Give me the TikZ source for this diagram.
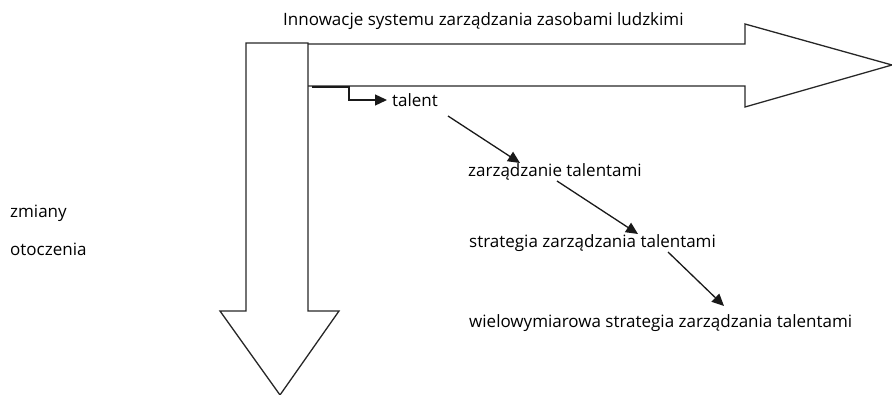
\documentclass[tikz,border=0pt]{standalone}
\usepackage{fontspec}
\setmainfont{Open Sans}
\usetikzlibrary{arrows.meta}
\begin{document}
\begin{tikzpicture}[x=1pt,y=-1pt,
  outline/.style={draw=black!85,line width=1.3pt,line join=miter},
  lbl/.style={font=\fontsize{17}{20}\selectfont,inner sep=0pt,anchor=west},
  conn/.style={draw=black!90,line width=1.3pt,-{Triangle[length=12pt,width=11pt]}}]
\useasboundingbox (0,0) rectangle (892,395);
% down arrow
\draw[outline] (308,43) -- (246,43) -- (246,311) -- (220,311) -- (280,395) -- (339,311) -- (308,311) -- cycle;
% right arrow
\draw[outline] (308,44) -- (745,44) -- (745,24) -- (892,65) -- (745,107) -- (745,86) -- (308,86);
% texts
\node[lbl] (title) at (283,21) {Innowacje systemu zarządzania zasobami ludzkimi};
\node[lbl] (zm) at (10,213) {zmiany};
\node[lbl] (ot) at (10,249) {otoczenia};
\node[lbl] (t1) at (392,100) {talent};
\node[lbl] (t2) at (468,172) {zarządzanie talentami};
\node[lbl] (t3) at (469,243) {strategia zarządzania talentami};
\node[lbl] (t4) at (469,323) {wielowymiarowa strategia zarządzania talentami};
\coordinate (s0) at (312,87);
\draw[conn] (s0) -- (349,87) -- (349,100) -- ([xshift=-5pt]t1.west);
\coordinate (a1) at (448,116);
\coordinate (b1) at (520,163);
\draw[conn] (a1) -- (b1);
\coordinate (a2) at (557,181);
\coordinate (b2) at (638,234);
\draw[conn] (a2) -- (b2);
\coordinate (a3) at (668,252);
\coordinate (b3) at (724,306);
\draw[conn] (a3) -- (b3);
\end{tikzpicture}
\end{document}
